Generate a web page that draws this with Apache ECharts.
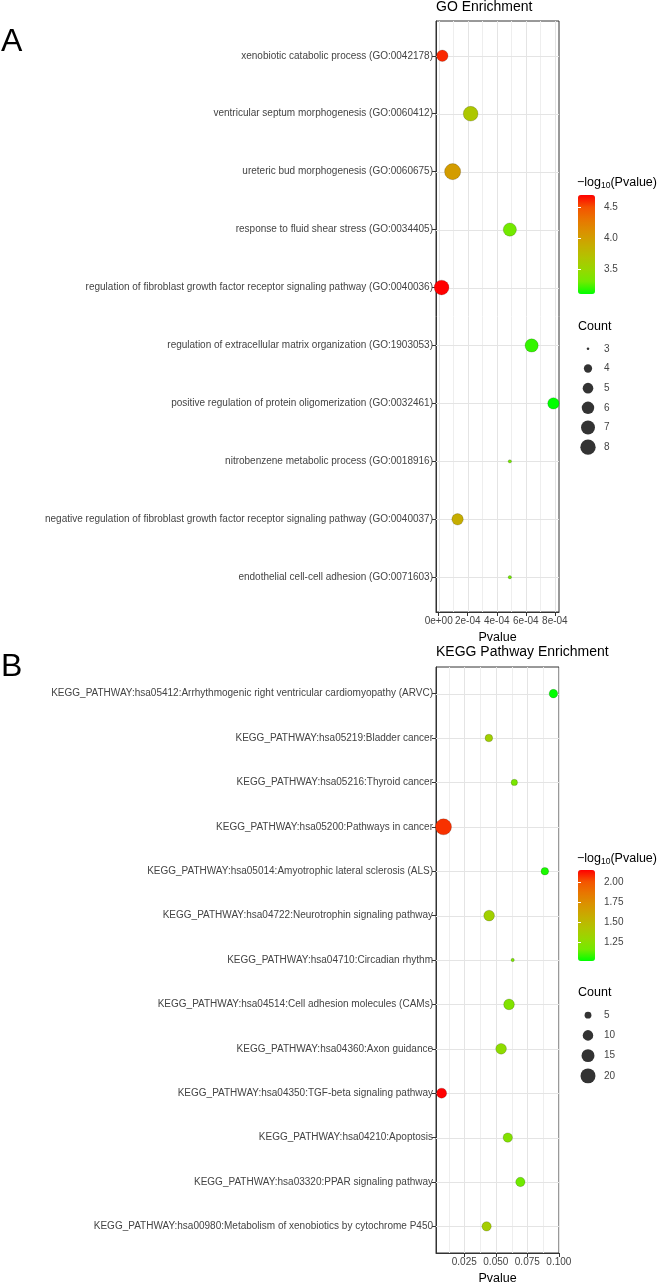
<!DOCTYPE html>
<html>
<head>
<meta charset="utf-8">
<script src="https://cdn.jsdelivr.net/npm/echarts@6/dist/echarts.min.js"></script>
<style>
html,body{margin:0;padding:0;background:#fff;}
#chart{width:663px;height:1286px;}
</style>
</head>
<body>
<div id="chart"></div>
<script>
// ---------------- DATA ----------------
const goTerms = [
  'xenobiotic catabolic process (GO:0042178)',
  'ventricular septum morphogenesis (GO:0060412)',
  'ureteric bud morphogenesis (GO:0060675)',
  'response to fluid shear stress (GO:0034405)',
  'regulation of fibroblast growth factor receptor signaling pathway (GO:0040036)',
  'regulation of extracellular matrix organization (GO:1903053)',
  'positive regulation of protein oligomerization (GO:0032461)',
  'nitrobenzene metabolic process (GO:0018916)',
  'negative regulation of fibroblast growth factor receptor signaling pathway (GO:0040037)',
  'endothelial cell-cell adhesion (GO:0071603)'
];
const goPvalue = [2.5e-5, 2.2e-4, 9.6e-5, 4.9e-4, 2.0e-5, 6.4e-4, 7.9e-4, 4.9e-4, 1.3e-4, 4.9e-4];
const goCount  = [5, 7, 8, 6, 7, 6, 5, 3, 5, 3];

const keggTerms = [
  'KEGG_PATHWAY:hsa05412:Arrhythmogenic right ventricular cardiomyopathy (ARVC)',
  'KEGG_PATHWAY:hsa05219:Bladder cancer',
  'KEGG_PATHWAY:hsa05216:Thyroid cancer',
  'KEGG_PATHWAY:hsa05200:Pathways in cancer',
  'KEGG_PATHWAY:hsa05014:Amyotrophic lateral sclerosis (ALS)',
  'KEGG_PATHWAY:hsa04722:Neurotrophin signaling pathway',
  'KEGG_PATHWAY:hsa04710:Circadian rhythm',
  'KEGG_PATHWAY:hsa04514:Cell adhesion molecules (CAMs)',
  'KEGG_PATHWAY:hsa04360:Axon guidance',
  'KEGG_PATHWAY:hsa04350:TGF-beta signaling pathway',
  'KEGG_PATHWAY:hsa04210:Apoptosis',
  'KEGG_PATHWAY:hsa03320:PPAR signaling pathway',
  'KEGG_PATHWAY:hsa00980:Metabolism of xenobiotics by cytochrome P450'
];
const keggPvalue = [0.0957, 0.0445, 0.0647, 0.0085, 0.0889, 0.0447, 0.0634, 0.0605, 0.0542, 0.0070, 0.0595, 0.0695, 0.0427];
const keggCount  = [6, 5, 4, 21, 5, 9, 3, 9, 9, 8, 7, 7, 7];

const goXTicks = [0, 2e-4, 4e-4, 6e-4, 8e-4];
const goXTickLabels = ['0e+00', '2e-04', '4e-04', '6e-04', '8e-04'];
const keggXTicks = [0.025, 0.05, 0.075, 0.1];
const keggXTickLabels = ['0.025', '0.050', '0.075', '0.100'];

const goColorTicks = [3.5, 4.0, 4.5];
const keggColorTicks = [1.25, 1.50, 1.75, 2.00];
const goSizeBreaks = [3, 4, 5, 6, 7, 8];
const keggSizeBreaks = [5, 10, 15, 20];

// ---------------- STYLE / HELPERS ----------------
const FONT = '"Liberation Sans", Arial, Helvetica, sans-serif';
// green -> red gradient interpolated in Lab space (as ggplot2 does), sampled at 1/8 steps
const GRAD = ['#00FF00', '#72EA00', '#98D700', '#B3C200', '#C8AB00', '#DA9200', '#E87600', '#F45300', '#FF0000'];
const AXIS_TXT = '#444444';
const GRID_MAJOR = '#E4E4E4';
const GRID_MINOR = '#EEEEEE';

function expandRange(vals) {
  const lo = Math.min(...vals), hi = Math.max(...vals), r = hi - lo;
  return [lo - 0.05 * r, hi + 0.05 * r];
}
function sizeScale(counts) {
  const lo = Math.min(...counts), hi = Math.max(...counts);
  return c => 2.55 * (1 + 5 * Math.sqrt(Math.max(0, (c - lo)) / (hi - lo)));
}
function nlog(p) { return -Math.log10(p); }
function labelLookup(vals, labels) {
  const tol = Math.abs(vals[vals.length - 1] - vals[0]) * 1e-6 + 1e-15;
  return v => {
    for (let i = 0; i < vals.length; i++) if (Math.abs(vals[i] - v) <= tol) return labels[i];
    return '';
  };
}
function midpoints(ticks) {
  const step = ticks[1] - ticks[0];
  const out = [];
  for (let i = 0; i < ticks.length; i++) out.push(ticks[i] - step / 2);
  out.push(ticks[ticks.length - 1] + step / 2);
  return out;
}

const goXLim = expandRange(goPvalue);
const keggXLim = expandRange(keggPvalue);
const goColLim = [Math.min(...goPvalue.map(nlog)), Math.max(...goPvalue.map(nlog))];
const keggColLim = [Math.min(...keggPvalue.map(nlog)), Math.max(...keggPvalue.map(nlog))];
const goSize = sizeScale(goCount);
const keggSize = sizeScale(keggCount);

const panels = [
  { terms: goTerms, p: goPvalue, n: goCount, xlim: goXLim, xt: goXTicks, xtl: goXTickLabels,
    grid: { left: 436, top: 21, width: 123, height: 591 }, size: goSize },
  { terms: keggTerms, p: keggPvalue, n: keggCount, xlim: keggXLim, xt: keggXTicks, xtl: keggXTickLabels,
    grid: { left: 436, top: 667, width: 123, height: 589 }, size: keggSize }
];

const grids = [], xAxes = [], yAxes = [], series = [], visualMaps = [];

panels.forEach((pn, k) => {
  grids.push(Object.assign({ show: true, borderColor: '#333', borderWidth: 1, backgroundColor: '#fff' }, pn.grid));
  const idx = pn.terms.map((_, i) => i);
  xAxes.push({
    gridIndex: k, type: 'value', min: pn.xlim[0], max: pn.xlim[1],
    name: 'Pvalue', nameLocation: 'middle', nameGap: 19,
    nameTextStyle: { fontSize: 12.5, color: '#000', fontFamily: FONT },
    axisLine: { show: true, onZero: false, lineStyle: { color: '#333', width: 1 } },
    axisTick: { show: true, length: 4, lineStyle: { color: '#333' }, customValues: pn.xt },
    axisLabel: { customValues: pn.xt, formatter: labelLookup(pn.xt, pn.xtl), fontSize: 10, color: AXIS_TXT, margin: 4, fontFamily: FONT },
    splitLine: { show: false }
  });
  yAxes.push({
    gridIndex: k, type: 'value', inverse: true, min: -0.6, max: pn.terms.length - 1 + 0.6,
    axisLine: { show: true, onZero: false, lineStyle: { color: '#333', width: 1 } },
    axisTick: { show: true, length: 4, lineStyle: { color: '#333' }, customValues: idx },
    axisLabel: { customValues: idx, formatter: v => pn.terms[Math.round(v)], fontSize: 10, color: AXIS_TXT, margin: 3, fontFamily: FONT },
    splitLine: { show: false }
  });
  // grid lines (through the axis scales) drawn under the points
  const lines = [];
  midpoints(pn.xt).forEach(v => { if (v > pn.xlim[0] && v < pn.xlim[1]) lines.push([v, 0, 1]); });
  pn.xt.forEach(v => { if (v > pn.xlim[0] && v < pn.xlim[1]) lines.push([v, 0, 0]); });
  idx.forEach(v => lines.push([v, 1, 0]));
  const xlo = pn.xlim[0];
  series.push({
    type: 'custom', xAxisIndex: k, yAxisIndex: k, silent: true, z: 1,
    data: lines,
    encode: { x: 0, y: 2 },
    renderItem: (params, api) => {
      const cs = params.coordSys;
      const v = api.value(0), dir = api.value(1), minor = api.value(2);
      const style = { stroke: minor ? GRID_MINOR : GRID_MAJOR, lineWidth: 1 };
      if (dir === 0) {
        const x = Math.round(api.coord([v, 0])[0]) + 0.5;
        return { type: 'line', shape: { x1: x, y1: cs.y, x2: x, y2: cs.y + cs.height }, style };
      }
      const y = Math.round(api.coord([xlo, v])[1]) + 0.5;
      return { type: 'line', shape: { x1: cs.x, y1: y, x2: cs.x + cs.width, y2: y }, style };
    }
  });
  series.push({
    type: 'scatter', xAxisIndex: k, yAxisIndex: k, z: 3, silent: true,
    data: pn.p.map((p, i) => [p, i, pn.n[i], nlog(p)]),
    symbolSize: d => pn.size(d[2]) + 0.8,
    itemStyle: { borderColor: 'rgba(0,0,0,0.22)', borderWidth: 0.8, opacity: 1 }
  });
});

// colour bars
const cbars = [
  { lim: goColLim, ticks: goColorTicks, dec: 1, top: 195, h: 99, series: 1 },
  { lim: keggColLim, ticks: keggColorTicks, dec: 2, top: 870, h: 91, series: 3 }
];
cbars.forEach(cb => {
  visualMaps.push({
    type: 'continuous', seriesIndex: cb.series, dimension: 3, min: cb.lim[0], max: cb.lim[1],
    inRange: { color: GRAD }, left: 578, top: cb.top, itemWidth: 17, itemHeight: cb.h,
    padding: 0, calculable: false, hoverLink: false, show: true, orient: 'vertical'
  });
  const gi = grids.length;
  grids.push({ left: 578, top: cb.top, width: 17, height: cb.h, show: false });
  xAxes.push({ gridIndex: gi, type: 'value', show: false, min: 0, max: 1 });
  yAxes.push({
    gridIndex: gi, type: 'value', position: 'right', min: cb.lim[0], max: cb.lim[1], z: 10,
    axisLine: { show: false },
    axisTick: { show: true, inside: true, length: 3, lineStyle: { color: '#fff', width: 1 }, customValues: cb.ticks },
    axisLabel: { customValues: cb.ticks, formatter: v => v.toFixed(cb.dec), fontSize: 10, color: AXIS_TXT, margin: 9, fontFamily: FONT },
    splitLine: { show: false }
  });
  yAxes.push({
    gridIndex: gi, type: 'value', position: 'left', min: cb.lim[0], max: cb.lim[1], z: 10,
    axisLine: { show: false },
    axisTick: { show: true, inside: true, length: 3, lineStyle: { color: '#fff', width: 1 }, customValues: cb.ticks },
    axisLabel: { show: false }, splitLine: { show: false }
  });
});

// size legends
const sleg = [
  { breaks: goSizeBreaks, fn: goSize, top: 339, h: 118 },
  { breaks: keggSizeBreaks, fn: keggSize, top: 1005, h: 81 }
];
sleg.forEach(sl => {
  const gi = grids.length;
  grids.push({ left: 578, top: sl.top, width: 20, height: sl.h, show: false });
  const xi = xAxes.length, yi = yAxes.length;
  xAxes.push({ gridIndex: gi, type: 'value', show: false, min: -1, max: 1 });
  yAxes.push({
    gridIndex: gi, type: 'category', inverse: true, position: 'right', data: sl.breaks.map(String),
    axisLine: { show: false }, axisTick: { show: false },
    axisLabel: { fontSize: 10, color: AXIS_TXT, margin: 6, fontFamily: FONT }, splitLine: { show: false }
  });
  series.push({
    type: 'scatter', xAxisIndex: xi, yAxisIndex: yi, silent: true,
    data: sl.breaks.map((c, i) => [0, i, c]),
    symbolSize: d => sl.fn(d[2]),
    itemStyle: { color: '#000' }
  });
});

const legTitleRich = {
  m: { fontSize: 12.5, fontWeight: 'normal', color: '#000', fontFamily: FONT },
  s: { fontSize: 8.5, fontWeight: 'normal', color: '#000', fontFamily: FONT, verticalAlign: 'bottom', padding: [6, 0, 0, 0] }
};
const plain = (size) => ({ fontSize: size, fontWeight: 'normal', color: '#000', fontFamily: FONT });

const titles = [
  { text: 'A', left: 1, top: 26, padding: 0, textStyle: plain(32) },
  { text: 'B', left: 1, top: 651, padding: 0, textStyle: plain(32) },
  { text: 'GO Enrichment', left: 436, top: 0, padding: 0, textStyle: plain(14) },
  { text: 'KEGG Pathway Enrichment', left: 436, top: 645, padding: 0, textStyle: plain(14) },
  { text: '{m|−log}{s|10}{m|(Pvalue)}', left: 577, top: 175, padding: 0, textStyle: { fontWeight: 'normal', rich: legTitleRich } },
  { text: '{m|−log}{s|10}{m|(Pvalue)}', left: 577, top: 851, padding: 0, textStyle: { fontWeight: 'normal', rich: legTitleRich } },
  { text: 'Count', left: 578, top: 320, padding: 0, textStyle: plain(12.5) },
  { text: 'Count', left: 578, top: 986, padding: 0, textStyle: plain(12.5) }
];

const chart = echarts.init(document.getElementById('chart'), null, { renderer: 'canvas' });
chart.setOption({
  animation: false,
  backgroundColor: '#fff',
  textStyle: { fontFamily: FONT },
  title: titles,
  grid: grids,
  xAxis: xAxes,
  yAxis: yAxes,
  visualMap: visualMaps,
  series: series
});
</script>
</body>
</html>
